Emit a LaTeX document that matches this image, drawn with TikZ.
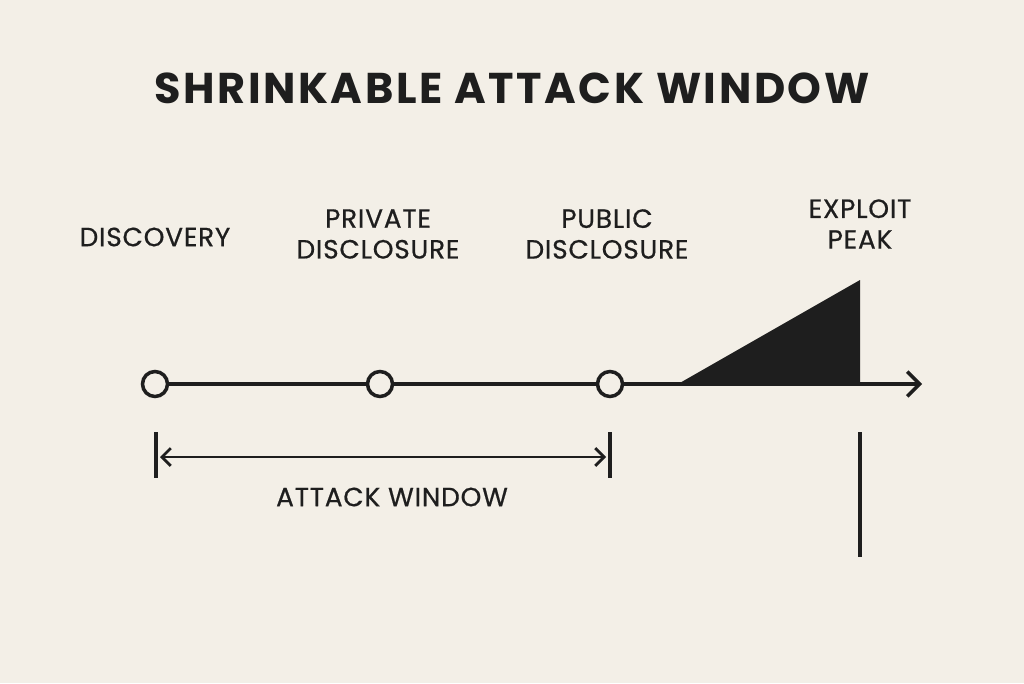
\documentclass[tikz,border=0pt]{standalone}
\usepackage{fontspec}
\setmainfont{Poppins}
\usetikzlibrary{arrows.meta}
\definecolor{bg}{HTML}{F3EFE7}
\definecolor{ink}{HTML}{1E1E1E}
\begin{document}
\begin{tikzpicture}[x=0.02cm,y=-0.02cm,
  lbl/.style={font=\fontsize{15}{17.5}\selectfont\addfontfeature{LetterSpace=3,FakeBold=0.6}, text=ink, align=center},
  dot/.style={circle,draw=ink,line width=2pt,fill=bg,minimum size=0.5cm,inner sep=0},
  ln/.style={draw=ink,line width=2pt}]
\fill[bg] (0,0) rectangle (1024,683);
\useasboundingbox (0,0) rectangle (1024,683);
\node[font=\fontsize{24.5}{30}\selectfont\addfontfeature{LetterSpace=6}\bfseries,text=ink] (title) at (512,88) {SHRINKABLE ATTACK WINDOW};
\coordinate (s) at (142,384);
\coordinate (e) at (922,384);
\fill[ink] (678,384) -- (860,280) -- (860,384) -- cycle;
\draw[ln,-{Straight Barb[length=7pt,width=14pt]}] (s) -- (e);
\node[dot] (d1) at (155,384) {};
\node[dot] (d2) at (380,384) {};
\node[dot] (d3) at (610,384) {};
\node[lbl] (l1) at (155,237) {DISCOVERY};
\node[lbl] (l2) at (378,234) {PRIVATE\\DISCLOSURE};
\node[lbl] (l3) at (607,234) {PUBLIC\\DISCLOSURE};
\node[lbl] (l4) at (860,224) {EXPLOIT\\PEAK};
\coordinate (t1a) at (156,432); \coordinate (t1b) at (156,478);
\coordinate (t2a) at (610,432); \coordinate (t2b) at (610,478);
\draw[ln] (t1a) -- (t1b);
\draw[ln] (t2a) -- (t2b);
\coordinate (a1) at (160,457); \coordinate (a2) at (606,457);
\draw[ln,line width=1.6pt,{Straight Barb[length=5pt,width=10pt]}-{Straight Barb[length=5pt,width=10pt]}] (a1) -- (a2);
\node[lbl] (aw) at (392,497) {ATTACK WINDOW};
\coordinate (v1) at (860,432); \coordinate (v2) at (860,557);
\draw[ln] (v1) -- (v2);
\end{tikzpicture}
\end{document}
